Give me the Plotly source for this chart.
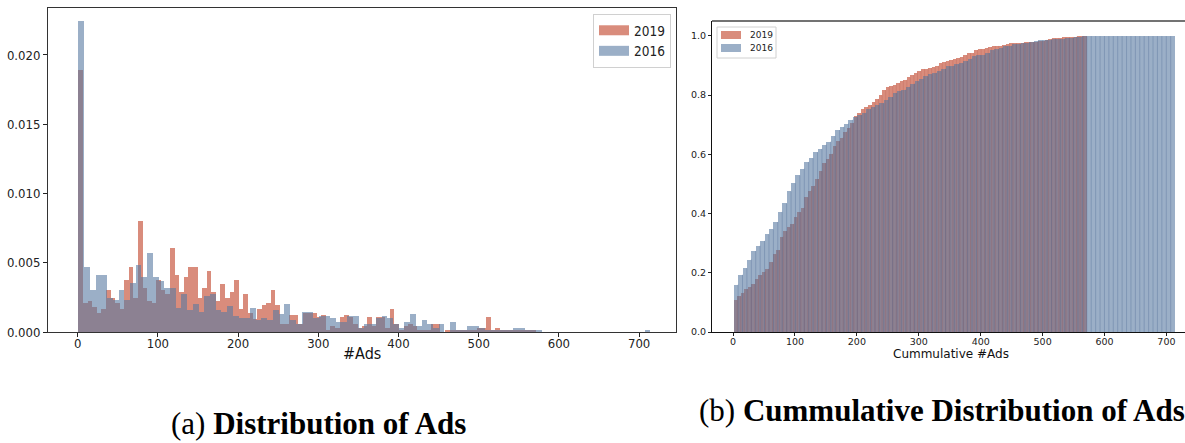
import numpy as np
import plotly.graph_objects as go

# Ads per account, binned into 100 equal-width bins per year (raw counts)
n_bins = 100
range_2019 = (1, 572)
range_2016 = (1, 714)

counts_2019 = [
    125, 14, 15, 12, 9, 11, 20, 16, 14, 11,
    25, 31, 16, 53, 21, 15, 14, 25, 20, 18,
    40, 27, 19, 26, 31, 31, 16, 21, 29, 19,
    15, 23, 16, 19, 25, 11, 18, 9, 6, 11,
    13, 14, 20, 13, 4, 4, 8, 8, 4, 9,
    9, 9, 7, 8, 1, 3, 2, 7, 8, 7,
    4, 2, 3, 7, 3, 7, 7, 2, 11, 4,
    1, 3, 4, 3, 1, 1, 1, 4, 4, 0,
    1, 1, 1, 1, 1, 1, 1, 2, 2, 7,
    1, 2, 1, 1, 1, 1, 1, 1, 1, 1,
]

counts_2016 = [
    154, 32, 21, 28, 28, 17, 16, 21, 16, 24,
    33, 27, 39, 27, 25, 22, 22, 12, 19, 11,
    14, 10, 18, 19, 11, 10, 13, 8, 7, 7,
    12, 6, 7, 6, 11, 9, 14, 6, 4, 10,
    10, 7, 8, 8, 7, 5, 5, 8, 8, 2,
    4, 4, 7, 8, 7, 4, 2, 5, 9, 3,
    6, 4, 2, 4, 0, 5, 1, 1, 3, 3,
    2, 1, 1, 1, 1, 1, 2, 2, 1, 1,
    1, 0, 0, 0, 0, 0, 0, 0, 0, 0,
    0, 0, 0, 0, 0, 0, 0, 0, 0, 1,
]

series_names = ["2019", "2016"]
x_ticks = [0, 100, 200, 300, 400, 500, 600, 700]
density_ticks = [0.0, 0.005, 0.010, 0.015, 0.020]
cdf_ticks = [0.0, 0.2, 0.4, 0.6, 0.8, 1.0]

COLOR_2019 = "rgba(192,63,37,0.6)"
COLOR_2016 = "rgba(88,122,162,0.6)"
SEAM_2019 = "rgba(165,60,45,0.25)"
SEAM_2016 = "rgba(70,98,145,0.45)"

W, H = 1185, 443


def hist(counts, lo_hi):
    c = np.asarray(counts, dtype=float)
    lo, hi = lo_hi
    edges = np.linspace(lo, hi, n_bins + 1)
    width = edges[1] - edges[0]
    centers = (edges[:-1] + edges[1:]) / 2
    dens = c / (c.sum() * width)
    cdf = np.cumsum(c) / c.sum()
    return edges, centers, width, dens, cdf


def seams(edges, heights):
    """Vertical lines on the inner bin edges, up to the lower neighbouring bar."""
    xs, ys = [], []
    for i in range(1, len(heights)):
        h = min(heights[i - 1], heights[i])
        if h <= 0:
            continue
        xs += [edges[i], edges[i], None]
        ys += [0, h, None]
    return xs, ys


e19, c19, w19, d19, cdf19 = hist(counts_2019, range_2019)
e16, c16, w16, d16, cdf16 = hist(counts_2016, range_2016)


def px_x(p):
    return p / W


def px_y(p):
    return (H - p) / H


fig = go.Figure()

# (a) density histograms
fig.add_trace(go.Bar(x=c19, y=d19, width=w19, name=series_names[0], showlegend=False,
                     marker=dict(color=COLOR_2019, line=dict(width=0)), xaxis="x", yaxis="y"))
fig.add_trace(go.Bar(x=c16, y=d16, width=w16, name=series_names[1], showlegend=False,
                     marker=dict(color=COLOR_2016, line=dict(width=0)), xaxis="x", yaxis="y"))

# (b) cumulative histograms
fig.add_trace(go.Bar(x=c19, y=cdf19, width=w19, name=series_names[0], showlegend=False,
                     marker=dict(color=COLOR_2019, line=dict(width=0)), xaxis="x2", yaxis="y2"))
fig.add_trace(go.Bar(x=c16, y=cdf16, width=w16, name=series_names[1], showlegend=False,
                     marker=dict(color=COLOR_2016, line=dict(width=0)), xaxis="x2", yaxis="y2"))

sx, sy = seams(e19, cdf19)
fig.add_trace(go.Scatter(x=sx, y=sy, mode="lines", line=dict(color=SEAM_2019, width=0.7),
                         hoverinfo="skip", showlegend=False, xaxis="x2", yaxis="y2"))
sx, sy = seams(e16, cdf16)
fig.add_trace(go.Scatter(x=sx, y=sy, mode="lines", line=dict(color=SEAM_2016, width=0.7),
                         hoverinfo="skip", showlegend=False, xaxis="x2", yaxis="y2"))

# legend entries for panel (a): wide colour swatches
for name, col in zip(series_names, [COLOR_2019, COLOR_2016]):
    fig.add_trace(go.Scatter(x=[None], y=[None], mode="lines", name=name,
                             line=dict(color=col, width=12), xaxis="x", yaxis="y"))

tick_font_a = dict(family="DejaVu Sans Condensed, DejaVu Sans", size=13, color="#222")
tick_font_b = dict(family="DejaVu Sans", size=9.5, color="#222")

fig.update_layout(
    width=W, height=H,
    margin=dict(l=0, r=0, t=0, b=0, autoexpand=False),
    paper_bgcolor="white", plot_bgcolor="white",
    barmode="overlay", bargap=0,
    xaxis=dict(domain=[px_x(48), px_x(676)], range=[-37, 746], anchor="y", automargin=False,
               tickvals=x_ticks, ticks="outside", ticklen=4, tickcolor="#222", ticklabelstandoff=-5,
               showline=True, linecolor="#333", linewidth=1, mirror=True,
               showgrid=False, zeroline=False, tickfont=tick_font_a),
    yaxis=dict(domain=[px_y(332), px_y(8)], range=[0, 0.02339], anchor="x", automargin=False,
               tickvals=density_ticks, tickformat=".3f", ticks="outside", ticklen=4, tickcolor="#222",
               showline=True, linecolor="#333", linewidth=1, mirror=True,
               showgrid=False, zeroline=False, tickfont=tick_font_a),
    xaxis2=dict(domain=[px_x(712), 1.0], range=[-34, 730], anchor="y2", automargin=False,
                tickvals=x_ticks, ticks="outside", ticklen=3, tickcolor="#222", ticklabelstandoff=-3,
                showline=True, linecolor="#111", linewidth=1.2,
                showgrid=False, zeroline=False, tickfont=tick_font_b),
    yaxis2=dict(domain=[px_y(332), px_y(21)], range=[0, 1.05], anchor="x2", automargin=False,
                tickvals=cdf_ticks, tickformat=".1f", ticks="outside", ticklen=3, tickcolor="#222",
                showline=True, linecolor="#111", linewidth=1.2,
                showgrid=False, zeroline=False, tickfont=tick_font_b),
    legend=dict(x=px_x(671), xanchor="right", y=px_y(14), yanchor="top",
                bgcolor="white", bordercolor="#d0d0d0", borderwidth=1,
                font=dict(family="DejaVu Sans Condensed, DejaVu Sans", size=13.5, color="#222"),
                itemwidth=30, tracegroupgap=0),
    showlegend=True,
)

# top border of the cumulative panel
fig.add_shape(type="line", xref="paper", yref="paper",
              x0=px_x(712), x1=1.0, y0=px_y(21), y1=px_y(21),
              line=dict(color="#444", width=1.5))

# legend for panel (b)
fig.add_shape(type="rect", xref="paper", yref="paper",
              x0=px_x(717), x1=px_x(776), y0=px_y(58), y1=px_y(27),
              fillcolor="white", line=dict(color="#d0d0d0", width=1), layer="above")
for k, (name, col) in enumerate(zip(series_names, [COLOR_2019, COLOR_2016])):
    yc = 35 + 13 * k
    fig.add_shape(type="rect", xref="paper", yref="paper",
                  x0=px_x(721), x1=px_x(741), y0=px_y(yc + 4), y1=px_y(yc - 4),
                  fillcolor=col, line=dict(width=0), layer="above")
    fig.add_annotation(text=name, xref="paper", yref="paper", x=px_x(748), y=px_y(yc),
                       showarrow=False, xanchor="left", yanchor="middle",
                       font=dict(family="DejaVu Sans", size=9, color="#222"))

# axis titles
fig.add_annotation(text="#Ads", xref="paper", yref="paper", x=px_x(362), y=px_y(353),
                   showarrow=False, xanchor="center", yanchor="middle",
                   font=dict(family="DejaVu Sans Condensed, DejaVu Sans", size=16, color="#111"))
fig.add_annotation(text="Cummulative #Ads", xref="paper", yref="paper", x=px_x(951), y=px_y(354),
                   showarrow=False, xanchor="center", yanchor="middle",
                   font=dict(family="DejaVu Sans", size=12, color="#111"))

# sub-figure captions
fig.add_annotation(text="(a) <b>Distribution of Ads</b>", xref="paper", yref="paper",
                   x=px_x(318), y=px_y(423), showarrow=False, xanchor="center", yanchor="middle",
                   font=dict(family="Liberation Serif", size=31, color="#000"))
fig.add_annotation(text="(b) <b>Cummulative Distribution of Ads</b>", xref="paper", yref="paper",
                   x=px_x(697), y=px_y(410), showarrow=False, xanchor="left", yanchor="middle",
                   font=dict(family="Liberation Serif", size=31, color="#000"))

fig.write_html("out.html")
